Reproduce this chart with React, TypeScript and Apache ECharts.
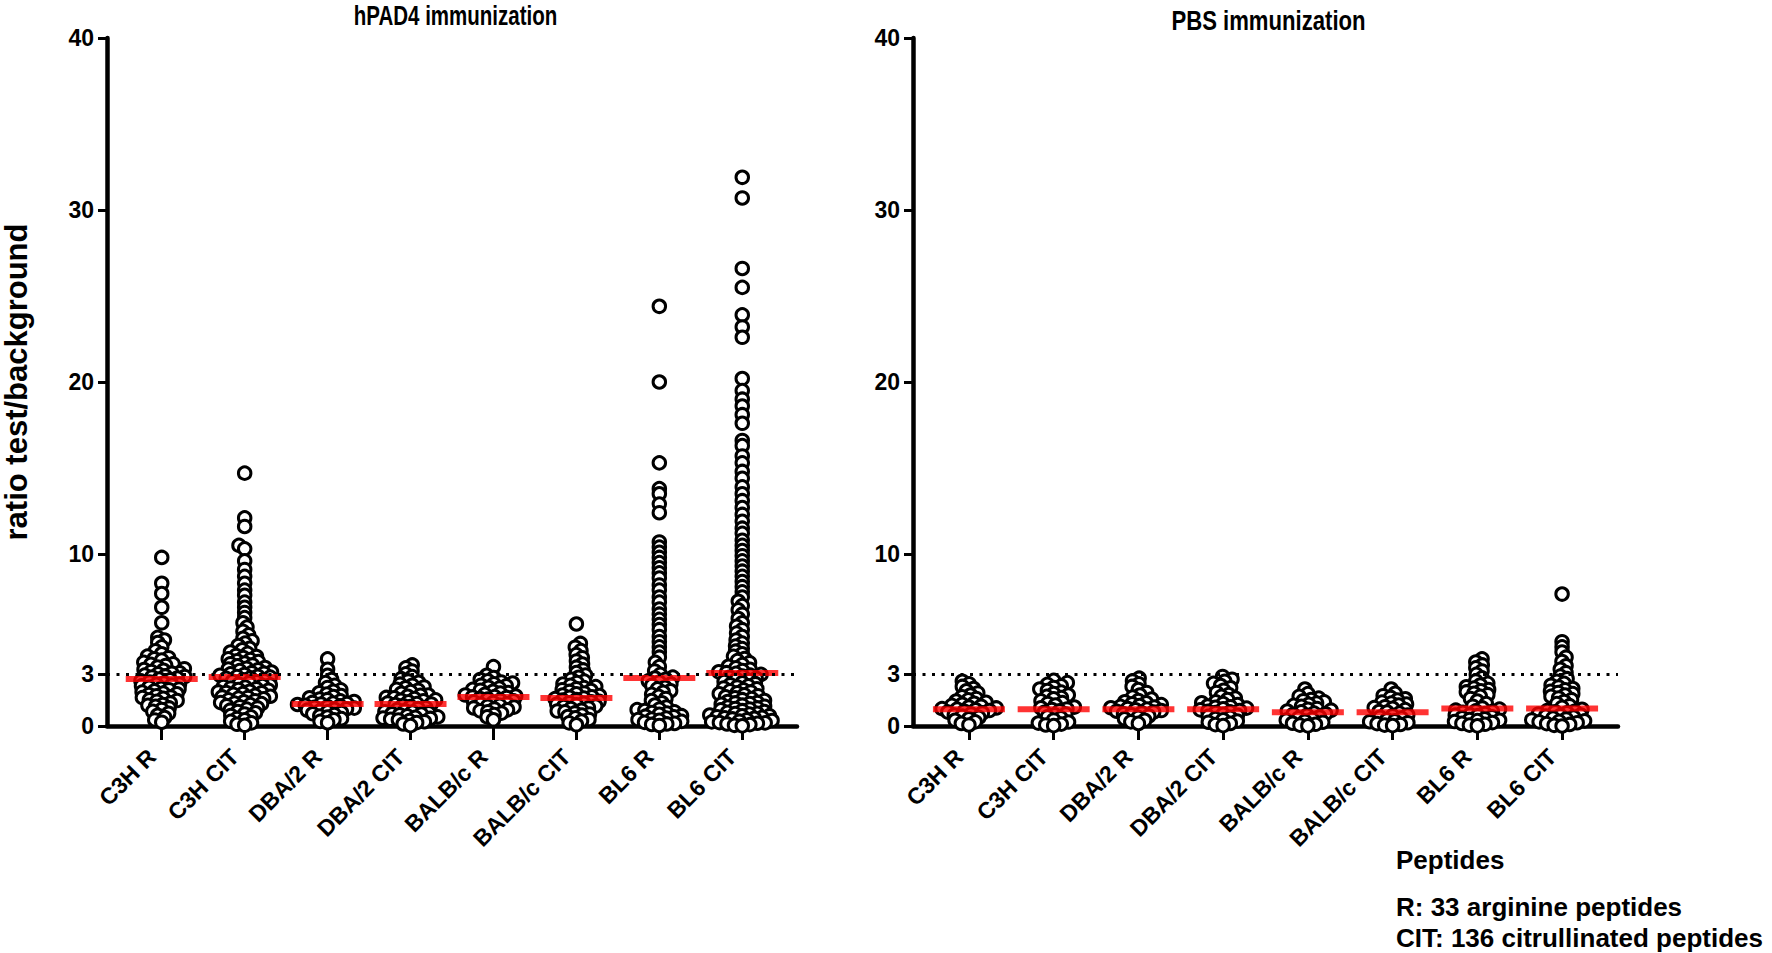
import React, { useEffect, useRef } from "react";
import * as echarts from "echarts";

// ---------- categories & ticks ----------
const categories = ["C3H R", "C3H CIT", "DBA/2 R", "DBA/2 CIT", "BALB/c R", "BALB/c CIT", "BL6 R", "BL6 CIT"];
const yTicks = [0, 3, 10, 20, 30, 40];
const threshold = 3;
const panelTitles = ["hPAD4 immunization", "PBS immunization"];
const yAxisName = "ratio test/background";
const noteLines = ["Peptides", "R: 33 arginine peptides", "CIT: 136 citrullinated peptides"];

// ---------- hPAD4 immunization ----------
const hC3H_R = [9.8, 8.3, 7.7, 6.9, 6.0, 5.15, 5.0, 4.85, 4.6, 4.37, 4.2, 4.06, 3.97, 3.91, 3.83, 3.7, 3.61, 3.58, 3.52, 3.43, 3.33, 3.28, 3.24, 3.17, 3.1, 3.07, 3.03, 2.96, 2.91, 2.88, 2.85, 2.79, 2.73, 2.68, 2.62, 2.56, 2.5, 2.44, 2.42, 2.38, 2.33, 2.25, 2.19, 2.15, 2.11, 2.04, 1.97, 1.91, 1.87, 1.83, 1.76, 1.69, 1.65, 1.61, 1.52, 1.48, 1.44, 1.34, 1.25, 1.2, 1.14, 1.05, 0.96, 0.85, 0.74, 0.62, 0.49, 0.35, 0.22];
const hC3H_CIT = [14.7, 12.1, 11.6, 10.5, 10.3, 9.6, 9.1, 8.7, 8.3, 7.9, 7.6, 7.2, 6.9, 6.6, 6.3, 6.0, 5.75, 5.5, 5.3, 5.1, 4.95, 4.82, 4.68, 4.52, 4.43, 4.3, 4.22, 4.1, 4.04, 3.98, 3.9, 3.86, 3.79, 3.74, 3.66, 3.62, 3.55, 3.5, 3.4, 3.36, 3.31, 3.27, 3.22, 3.14, 3.1, 3.07, 3.03, 2.99, 2.95, 2.89, 2.87, 2.84, 2.8, 2.77, 2.69, 2.64, 2.6, 2.57, 2.51, 2.43, 2.38, 2.35, 2.3, 2.26, 2.21, 2.17, 2.12, 2.08, 2.02, 1.98, 1.95, 1.93, 1.88, 1.84, 1.78, 1.73, 1.69, 1.66, 1.62, 1.58, 1.52, 1.47, 1.41, 1.36, 1.33, 1.3, 1.24, 1.18, 1.12, 1.05, 0.98, 0.92, 0.84, 0.77, 0.7, 0.61, 0.53, 0.44, 0.36, 0.27, 0.18, 0.1, 0.04];
const hDBA_R = [3.9, 3.3, 2.95, 2.7, 2.52, 2.36, 2.24, 2.1, 2.02, 1.93, 1.86, 1.77, 1.71, 1.64, 1.57, 1.53, 1.46, 1.42, 1.37, 1.33, 1.3, 1.28, 1.25, 1.2, 1.17, 1.12, 1.09, 1.04, 1.0, 0.97, 0.92, 0.88, 0.82, 0.78, 0.71, 0.66, 0.58, 0.52, 0.43, 0.36, 0.27, 0.19];
const hDBA_CIT = [3.55, 3.38, 3.2, 3.03, 2.87, 2.75, 2.62, 2.54, 2.43, 2.37, 2.27, 2.22, 2.13, 2.08, 2.0, 1.9, 1.8, 1.78, 1.73, 1.66, 1.64, 1.59, 1.52, 1.5, 1.46, 1.41, 1.34, 1.3, 1.28, 1.25, 1.19, 1.13, 1.07, 1.01, 0.95, 0.89, 0.83, 0.81, 0.77, 0.71, 0.69, 0.65, 0.59, 0.53, 0.5, 0.46, 0.44, 0.39, 0.35, 0.31, 0.25, 0.2, 0.12, 0.02];
const hBALB_R = [3.45, 2.95, 2.82, 2.7, 2.63, 2.56, 2.5, 2.45, 2.37, 2.33, 2.25, 2.2, 2.13, 2.08, 2.02, 1.95, 1.91, 1.84, 1.8, 1.74, 1.71, 1.69, 1.66, 1.6, 1.57, 1.5, 1.46, 1.4, 1.36, 1.3, 1.27, 1.2, 1.15, 1.1, 1.05, 0.99, 0.94, 0.88, 0.83, 0.75, 0.66, 0.53, 0.36];
const hBALB_CIT = [5.93, 4.8, 4.58, 4.38, 4.15, 3.97, 3.78, 3.6, 3.42, 3.26, 3.11, 2.96, 2.83, 2.72, 2.61, 2.52, 2.44, 2.36, 2.29, 2.23, 2.17, 2.11, 2.06, 2.01, 1.92, 1.87, 1.8, 1.77, 1.7, 1.67, 1.62, 1.59, 1.53, 1.5, 1.44, 1.41, 1.35, 1.32, 1.26, 1.23, 1.16, 1.13, 1.05, 1.01, 0.92, 0.87, 0.82, 0.76, 0.7, 0.63, 0.55, 0.47, 0.38, 0.29, 0.18, 0.07];
const hBL6_R = [24.4, 20.0, 15.3, 13.8, 13.5, 12.9, 12.4, 10.7, 10.4, 10.1, 9.8, 9.5, 9.2, 8.9, 8.6, 8.2, 7.9, 7.5, 7.2, 6.8, 6.5, 6.2, 5.9, 5.6, 5.2, 4.9, 4.6, 4.3, 4.0, 3.7, 3.45, 3.2, 3.0, 2.84, 2.79, 2.72, 2.62, 2.55, 2.44, 2.36, 2.25, 2.16, 2.05, 1.96, 1.84, 1.72, 1.6, 1.48, 1.35, 1.22, 1.1, 0.98, 0.95, 0.9, 0.82, 0.78, 0.75, 0.68, 0.6, 0.57, 0.53, 0.46, 0.4, 0.37, 0.33, 0.27, 0.21, 0.15, 0.12, 0.09, 0.03];
const hBL6_CIT = [31.9, 30.7, 26.6, 25.5, 23.9, 23.2, 22.6, 20.2, 19.5, 19.0, 18.6, 18.1, 17.6, 16.6, 16.3, 15.7, 15.3, 14.8, 14.4, 13.9, 13.5, 13.1, 12.7, 12.3, 11.9, 11.5, 11.2, 10.8, 10.5, 10.2, 9.9, 9.6, 9.3, 9.0, 8.7, 8.4, 8.1, 7.8, 7.5, 7.25, 7.0, 6.75, 6.5, 6.25, 6.0, 5.8, 5.6, 5.4, 5.2, 5.0, 4.82, 4.65, 4.5, 4.35, 4.2, 4.05, 3.92, 3.8, 3.68, 3.57, 3.47, 3.38, 3.3, 3.22, 3.15, 3.1, 3.06, 3.0, 2.96, 2.9, 2.83, 2.77, 2.71, 2.64, 2.58, 2.51, 2.46, 2.4, 2.33, 2.27, 2.21, 2.16, 2.1, 2.04, 1.98, 1.93, 1.87, 1.81, 1.76, 1.7, 1.64, 1.59, 1.53, 1.48, 1.42, 1.37, 1.34, 1.31, 1.26, 1.21, 1.15, 1.1, 1.05, 1.02, 0.99, 0.94, 0.89, 0.84, 0.79, 0.74, 0.72, 0.69, 0.64, 0.6, 0.59, 0.54, 0.5, 0.47, 0.45, 0.41, 0.36, 0.32, 0.28, 0.24, 0.2, 0.18, 0.16, 0.12, 0.08, 0.04, 0.01];
const hpad4Medians = [2.73, 2.85, 1.28, 1.28, 1.69, 1.63, 2.79, 3.08];

// ---------- PBS immunization ----------
const pC3H_R = [2.6, 2.45, 2.3, 2.18, 2.05, 1.92, 1.8, 1.7, 1.6, 1.52, 1.45, 1.38, 1.32, 1.26, 1.2, 1.15, 1.1, 1.05, 1.01, 0.98, 0.94, 0.9, 0.86, 0.81, 0.76, 0.7, 0.64, 0.57, 0.5, 0.42, 0.33, 0.24, 0.15, 0.06];
const pC3H_CIT = [2.65, 2.52, 2.42, 2.33, 2.24, 2.15, 2.06, 1.97, 1.88, 1.8, 1.72, 1.65, 1.58, 1.46, 1.36, 1.31, 1.22, 1.1, 1.06, 0.99, 0.96, 0.88, 0.8, 0.7, 0.65, 0.53, 0.47, 0.35, 0.23, 0.17, 0.11, 0.06, 0.02];
const pDBA_R = [2.78, 2.62, 2.45, 2.3, 2.12, 1.95, 1.8, 1.68, 1.57, 1.48, 1.41, 1.35, 1.29, 1.24, 1.19, 1.14, 1.1, 1.06, 1.02, 0.98, 0.94, 0.9, 0.86, 0.81, 0.76, 0.71, 0.65, 0.58, 0.5, 0.42, 0.33, 0.24, 0.15];
const pDBA_CIT = [2.88, 2.72, 2.6, 2.48, 2.35, 2.22, 2.08, 1.95, 1.83, 1.72, 1.62, 1.54, 1.41, 1.35, 1.3, 1.25, 1.16, 1.12, 1.08, 1.04, 1.0, 0.94, 0.9, 0.86, 0.82, 0.78, 0.68, 0.62, 0.56, 0.5, 0.43, 0.36, 0.29, 0.22, 0.15, 0.08, 0.02];
const pBALB_R = [2.15, 1.88, 1.72, 1.62, 1.54, 1.47, 1.4, 1.33, 1.26, 1.2, 1.14, 1.02, 0.97, 0.92, 0.87, 0.82, 0.75, 0.71, 0.67, 0.62, 0.52, 0.46, 0.4, 0.34, 0.28, 0.22, 0.16, 0.1, 0.05, 0.01];
const pBALB_CIT = [2.15, 1.9, 1.76, 1.66, 1.58, 1.51, 1.39, 1.33, 1.27, 1.22, 1.12, 1.07, 1.03, 0.95, 0.84, 0.81, 0.75, 0.64, 0.6, 0.51, 0.46, 0.36, 0.3, 0.25, 0.19, 0.14, 0.09, 0.05, 0.02];
const pBL6_R = [3.9, 3.72, 3.55, 3.38, 3.2, 3.0, 2.8, 2.62, 2.48, 2.38, 2.28, 2.2, 2.12, 2.05, 1.98, 1.9, 1.82, 1.72, 1.6, 1.45, 1.3, 1.15, 1.05, 0.98, 0.92, 0.88, 0.85, 0.79, 0.72, 0.66, 0.63, 0.6, 0.54, 0.48, 0.42, 0.37, 0.33, 0.31, 0.26, 0.2, 0.15, 0.1, 0.05, 0.01];
const pBL6_CIT = [7.67, 4.9, 4.6, 4.3, 4.0, 3.75, 3.5, 3.3, 3.1, 2.9, 2.75, 2.6, 2.48, 2.37, 2.27, 2.18, 2.1, 2.02, 1.95, 1.88, 1.8, 1.72, 1.63, 1.53, 1.42, 1.3, 1.18, 1.08, 0.97, 0.9, 0.86, 0.83, 0.77, 0.7, 0.64, 0.61, 0.58, 0.52, 0.46, 0.41, 0.35, 0.3, 0.27, 0.24, 0.19, 0.14, 0.09, 0.04, 0.0];
const pbsMedians = [0.98, 0.98, 0.98, 0.98, 0.8, 0.8, 1.02, 1.02];

const hpad4Groups = [hC3H_R, hC3H_CIT, hDBA_R, hDBA_CIT, hBALB_R, hBALB_CIT, hBL6_R, hBL6_CIT];
const pbsGroups = [pC3H_R, pC3H_CIT, pDBA_R, pDBA_CIT, pBALB_R, pBALB_CIT, pBL6_R, pBL6_CIT];

// ---------- layout ----------
const W = 1772;
const H = 953;
const GRID_TOP = 38;
const GRID_H = 688;
const GRID_W = 705;
const GRID_LEFTS = [92, 913];
const X_MIN = -0.66;
const X_MAX = 7.66;
const Y_MAX = 40;
const PX_X = GRID_W / (X_MAX - X_MIN);
const PX_Y = GRID_H / Y_MAX;

const SANS = "'Liberation Sans', Arial, sans-serif";

// beeswarm layout: horizontal offsets so that markers do not pile up
function swarm(vals: number[]): number[] {
  const Dx = 8;
  const Dy = 5;
  const order = vals.map((_, i) => i).sort((a, b) => vals[a] - vals[b]);
  const placed: { x: number; y: number }[] = [];
  const off = new Array(vals.length).fill(0);
  order.forEach((idx, k) => {
    const y = vals[idx] * PX_Y;
    const cands: number[] = [0];
    for (const p of placed) {
      const dy = y - p.y;
      if (Math.abs(dy) < Dy) {
        const dx = Dx * Math.sqrt(1 - (dy / Dy) * (dy / Dy));
        cands.push(p.x + dx, p.x - dx);
      }
    }
    const sign = k % 2 === 0 ? 1 : -1;
    cands.sort((a, b) => Math.abs(a) - Math.abs(b) || sign * (b - a));
    let chosen = 0;
    for (const c of cands) {
      let ok = true;
      for (const p of placed) {
        const ex = (c - p.x) / Dx;
        const ey = (y - p.y) / Dy;
        if (ex * ex + ey * ey < 0.998) {
          ok = false;
          break;
        }
      }
      if (ok) {
        chosen = c;
        break;
      }
    }
    placed.push({ x: chosen, y });
    off[idx] = chosen / PX_X;
  });
  return off;
}

function pointsFor(groups: number[][]): number[][] {
  const out: number[][] = [];
  groups.forEach((g, i) => {
    const off = swarm(g);
    g.forEach((v, j) => out.push([i + off[j], v]));
  });
  return out;
}

const catIdx = categories.map((_, i) => i);

export default function App() {
  const ref = useRef<HTMLDivElement>(null);
  useEffect(() => {
    if (!ref.current) return;
    const chart = echarts.init(ref.current, undefined, { renderer: "svg" });

    const grids = GRID_LEFTS.map((left) => ({ left, top: GRID_TOP, width: GRID_W, height: GRID_H, containLabel: false }));
    const xAxes = [0, 1].map((g) => ({
      gridIndex: g,
      type: "value",
      min: X_MIN,
      max: X_MAX,
      axisLine: { show: true, onZero: false, lineStyle: { color: "#000", width: 4.5 } },
      axisTick: { show: true, customValues: catIdx, length: 14, lineStyle: { color: "#000", width: 3 } },
      axisLabel: {
        show: true,
        customValues: catIdx,
        formatter: (v: number) => categories[Math.round(v)] ?? "",
        rotate: 45,
        margin: 17,
        padding: [0, 14, 0, 0],
        fontFamily: SANS,
        fontWeight: "bold",
        fontSize: 23,
        color: "#000",
      },
      splitLine: { show: false },
    }));
    const yAxes = [0, 1].map((g) => ({
      gridIndex: g,
      type: "value",
      min: 0,
      max: Y_MAX,
      name: g === 0 ? yAxisName : "",
      nameLocation: "middle",
      nameRotate: 90,
      nameGap: 75,
      nameTextStyle: { fontFamily: SANS, fontWeight: "bold", fontSize: 31, color: "#000" },
      axisLine: { show: true, onZero: false, lineStyle: { color: "#000", width: 4.5 } },
      axisTick: { show: true, customValues: yTicks, length: 9, lineStyle: { color: "#000", width: 3 } },
      axisLabel: {
        show: true,
        customValues: yTicks,
        margin: 13,
        fontFamily: SANS,
        fontWeight: "bold",
        fontSize: 23,
        color: "#000",
      },
      splitLine: { show: false },
    }));

    const panels = [
      { groups: hpad4Groups, medians: hpad4Medians },
      { groups: pbsGroups, medians: pbsMedians },
    ];
    const series: any[] = [];
    panels.forEach((p, g) => {
      series.push({
        type: "line",
        xAxisIndex: g,
        yAxisIndex: g,
        data: [],
        z: 1,
        markLine: {
          silent: true,
          symbol: "none",
          label: { show: false },
          lineStyle: { color: "#000", width: 3, type: [3, 6.5] },
          data: [{ yAxis: threshold }],
        },
      });
      series.push({
        type: "scatter",
        xAxisIndex: g,
        yAxisIndex: g,
        z: 2,
        symbol: "circle",
        symbolSize: 12.5,
        itemStyle: { color: "#fff", borderColor: "#000", borderWidth: 3, opacity: 1 },
        data: pointsFor(p.groups),
      });
      series.push({
        type: "scatter",
        xAxisIndex: g,
        yAxisIndex: g,
        z: 3,
        symbol: "rect",
        symbolSize: [72, 6],
        itemStyle: { color: "#ff0000" },
        data: p.medians.map((m, i) => [i, m]),
      });
    });

    const graphic: any[] = [
      {
        type: "text",
        x: GRID_LEFTS[0] + GRID_W / 2 + 11,
        y: 15,
        scaleX: 0.76,
        style: { text: panelTitles[0], font: `bold 27px ${SANS}`, fill: "#000", textAlign: "center", textVerticalAlign: "middle", align: "center", verticalAlign: "middle" },
      },
      {
        type: "text",
        x: GRID_LEFTS[1] + GRID_W / 2 + 3,
        y: 21,
        scaleX: 0.82,
        style: { text: panelTitles[1], font: `bold 27px ${SANS}`, fill: "#000", textAlign: "center", textVerticalAlign: "middle", align: "center", verticalAlign: "middle" },
      },
    ];
    const noteY = [860, 907, 938];
    noteLines.forEach((t, i) =>
      graphic.push({
        type: "text",
        x: 1396,
        y: noteY[i],
        style: { text: t, font: `bold 26px ${SANS}`, fill: "#000", textAlign: "left", textVerticalAlign: "middle", align: "left", verticalAlign: "middle" },
      })
    );

    chart.setOption({
      animation: false,
      backgroundColor: "#fff",
      grid: grids,
      xAxis: xAxes,
      yAxis: yAxes,
      series,
      graphic,
    });
    return () => chart.dispose();
  }, []);
  return <div ref={ref} style={{ position: "fixed", left: 0, top: 0, width: W, height: H, background: "#fff" }} />;
}
